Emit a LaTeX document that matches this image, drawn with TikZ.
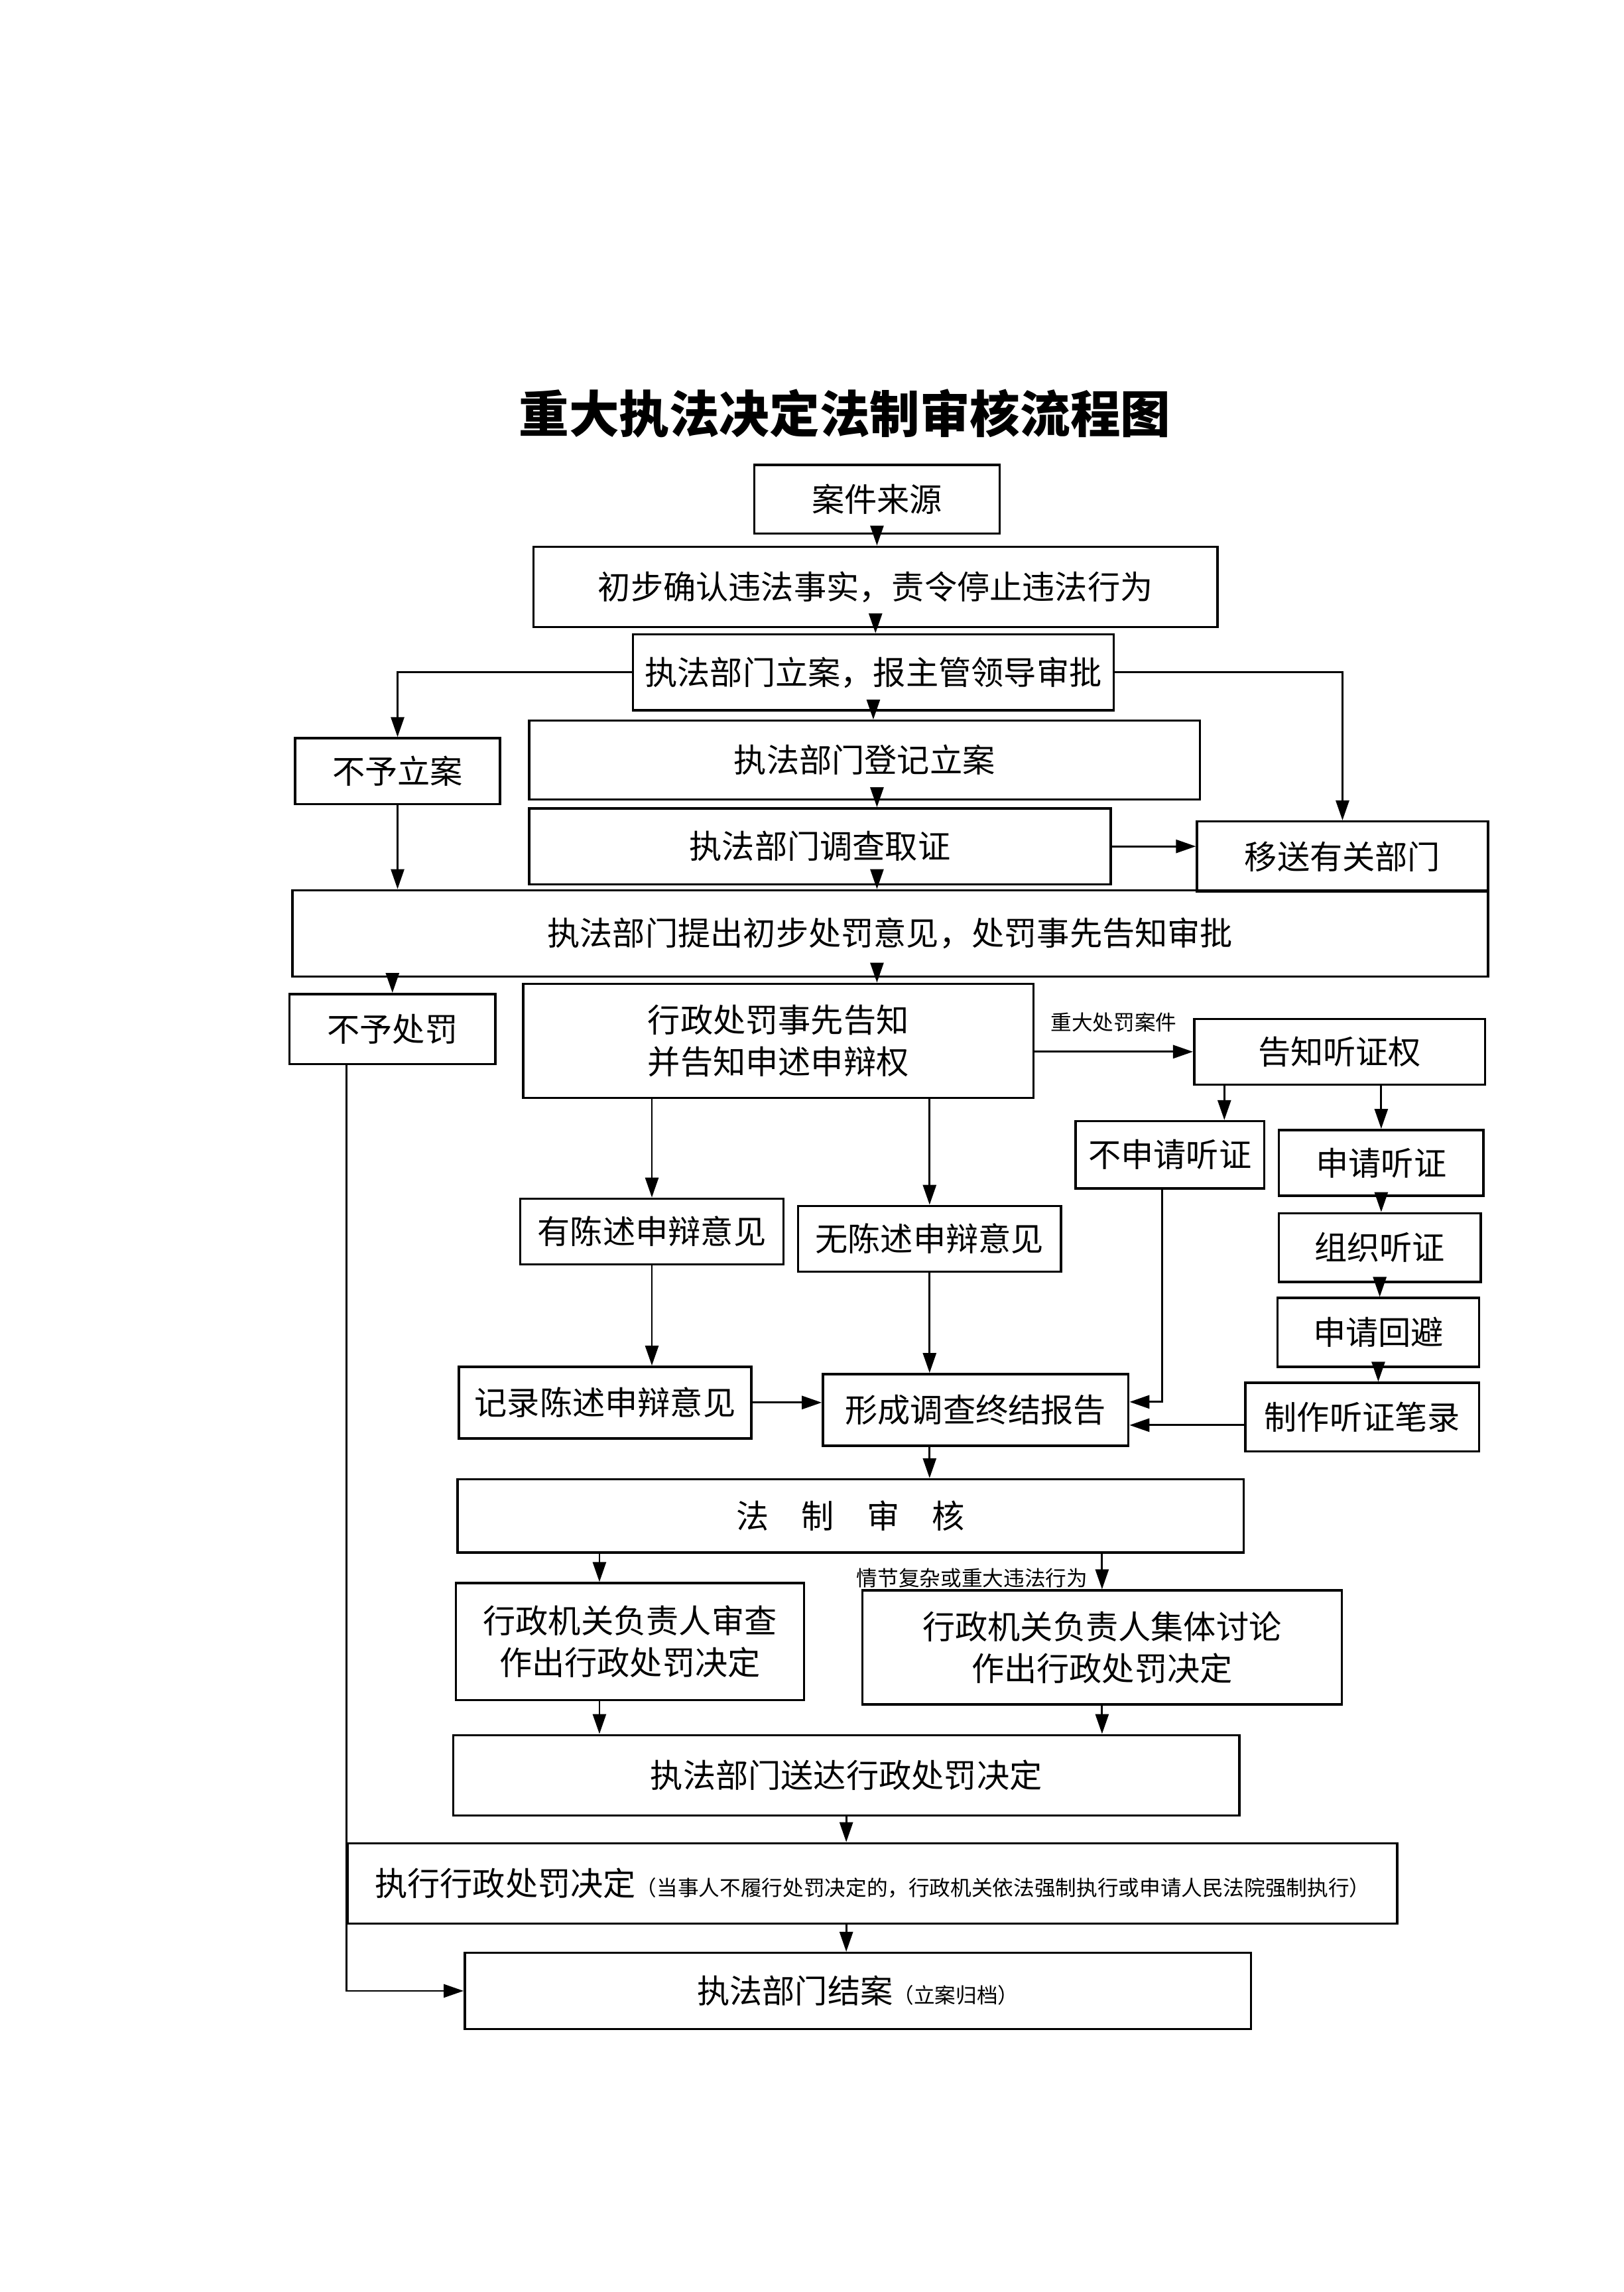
\documentclass[tikz,border=0pt]{standalone}
\usepackage{fontspec}
\setmainfont{Noto Sans CJK SC}
\usetikzlibrary{arrows.meta, positioning, calc}

\begin{document}
\begin{tikzpicture}[
      x=0.022035cm, y=-0.022035cm,
      box/.style={rectangle, draw, line width=1pt, align=center, inner sep=2pt, font=\fontsize{14}{18}\selectfont},
      sz/.style 2 args={minimum width=#1*0.022035cm, minimum height=#2*0.022035cm},
      arrow/.style={-{Triangle[length=0.3cm, width=0.2cm]}, line width=0.8pt},
      note/.style={font=\fontsize{9}{11}\selectfont, inner sep=1pt}
    ]
    \fill[white] (0,0) rectangle (1111,1568);
    \useasboundingbox (0,0) rectangle (1111,1568);

    \node[font=\fontsize{21.5}{26}\selectfont\bfseries] (title) at (578,283) {重大执法决定法制审核流程图};

    % main column
    \node[box, sz={168}{47}] (src) at (600,341.5) {案件来源};
    \node[box, sz={468}{55}] (confirm) at (599,401.5) {初步确认违法事实，责令停止违法行为};
    \node[box, sz={329}{52}] (filing) at (597.5,460) {执法部门立案，报主管领导审批};
    \node[box, sz={140}{45}] (nofile) at (272,527.5) {不予立案};
    \node[box, sz={459}{54}] (register) at (591.5,520) {执法部门登记立案};
    \node[box, sz={398}{52}] (investigate) at (561,579) {执法部门调查取证};
    \node[box, sz={199}{48}] (transfer) at (918.5,586) {移送有关部门};
    \node[box, sz={818}{59}] (propose) at (609,638.5) {执法部门提出初步处罚意见，处罚事先告知审批};
    \node[box, sz={141}{48}] (nopunish) at (268.5,704) {不予处罚};
    \node[box, sz={349}{78}] (notice) at (532.5,712) {行政处罚事先告知\\并告知申述申辩权};

    % hearing branch
    \node[box, sz={199}{45}] (hearright) at (916.5,719.5) {告知听证权};
    \node[box, sz={129}{46}] (nohear) at (800.5,790) {不申请听证};
    \node[box, sz={140}{45}] (applyhear) at (945,795.5) {申请听证};
    \node[box, sz={138}{47}] (organize) at (944,853.5) {组织听证};
    \node[box, sz={138}{47}] (recuse) at (943,911.5) {申请回避};
    \node[box, sz={160}{47}] (hearrec) at (932,969.5) {制作听证笔录};

    % statements
    \node[box, sz={180}{45}] (hasopin) at (446,842.5) {有陈述申辩意见};
    \node[box, sz={180}{45}] (noopin) at (636,847.5) {无陈述申辩意见};
    \node[box, sz={200}{49}] (writeopin) at (414,959.5) {记录陈述申辩意见};
    \node[box, sz={209}{49}] (report) at (667.5,964.5) {形成调查终结报告};

    % review and decision
    \node[box, sz={538}{50}] (review) at (582,1037) {法\hspace{1em}制\hspace{1em}审\hspace{1em}核};
    \node[box, sz={238}{80}] (headrev) at (431,1123) {行政机关负责人审查\\作出行政处罚决定};
    \node[box, sz={328}{78}] (collective) at (754,1127) {行政机关负责人集体讨论\\作出行政处罚决定};
    \node[box, sz={538}{55}] (deliver) at (579,1214.5) {执法部门送达行政处罚决定};
    \node[box, sz={718}{55}] (execute) at (597,1288.5) {执行行政处罚决定{\fontsize{9}{11}\selectfont（当事人不履行处罚决定的，行政机关依法强制执行或申请人民法院强制执行）}};
    \node[box, sz={538}{52}] (close) at (587,1362) {执法部门结案{\fontsize{9}{11}\selectfont（立案归档）}};

    % connectors
    \draw[arrow] (src.south) -- (src.south |- confirm.north);
    \draw[arrow] (confirm.south) -- (confirm.south |- filing.north);
    \draw[arrow] (filing.south) -- (filing.south |- register.north);
    \draw[arrow] (filing.west) -| (nofile.north);
    \draw[arrow] (filing.east) -| (transfer.north);
    \draw[arrow] (register.south -| src) -- (investigate.north -| src);
    \draw[arrow] (investigate.east) -- (investigate.east -| transfer.west);
    \draw[arrow] (investigate.south -| src) -- (propose.north -| src);
    \draw[arrow] (nofile.south) -- (nofile.south |- propose.north);
    \draw[arrow] (propose.south -| nopunish) -- (nopunish.north);
    \draw[arrow] (propose.south -| src) -- (notice.north -| src);
    \draw[arrow] ([xshift=-0.69cm]nopunish.south) |- (close.west);

    \draw[arrow] (notice.east |- hearright) -- (hearright.west);
    \node[note, above] (major) at (762,708) {重大处罚案件};
    \draw[arrow] (notice.south -| hasopin) -- (hasopin.north);
    \draw[arrow] (notice.south -| noopin) -- (noopin.north);
    \draw[arrow] ([xshift=-0.62cm]nohear.north east |- hearright.south) -- ([xshift=-0.62cm]nohear.north east);
    \draw[arrow] (hearright.south -| applyhear) -- (applyhear.north);
    \draw[arrow] (applyhear.south) -- (applyhear.south |- organize.north);
    \draw[arrow] (organize.south) -- (organize.south |- recuse.north);
    \draw[arrow] (recuse.south) -- (recuse.south |- hearrec.north);

    \draw[arrow] (hasopin.south) -- (hasopin.south |- writeopin.north);
    \draw[arrow] (noopin.south) -- (noopin.south |- report.north);
    \draw[arrow] ([xshift=-0.12cm]nohear.south) |- ([yshift=0.12cm]report.east);
    \draw[arrow] ([yshift=-0.12cm]hearrec.west) -- ([yshift=-0.12cm]hearrec.west -| report.east);
    \draw[arrow] (writeopin.east) -- (writeopin.east -| report.west);

    \draw[arrow] (report.south -| noopin) -- (review.north -| noopin);
    \draw[arrow] ([xshift=-0.46cm]headrev.north |- review.south) -- ([xshift=-0.46cm]headrev.north);
    \draw[arrow] (review.south -| collective) -- (collective.north);
    \node[note, anchor=south east] (complex) at (746,1088) {情节复杂或重大违法行为};
    \draw[arrow] ([xshift=-0.46cm]headrev.south) -- ([xshift=-0.46cm]headrev.south |- deliver.north);
    \draw[arrow] (collective.south) -- (collective.south |- deliver.north);
    \draw[arrow] (deliver.south) -- (deliver.south |- execute.north);
    \draw[arrow] (execute.south -| deliver) -- (close.north -| deliver);
  \end{tikzpicture}
\end{document}
